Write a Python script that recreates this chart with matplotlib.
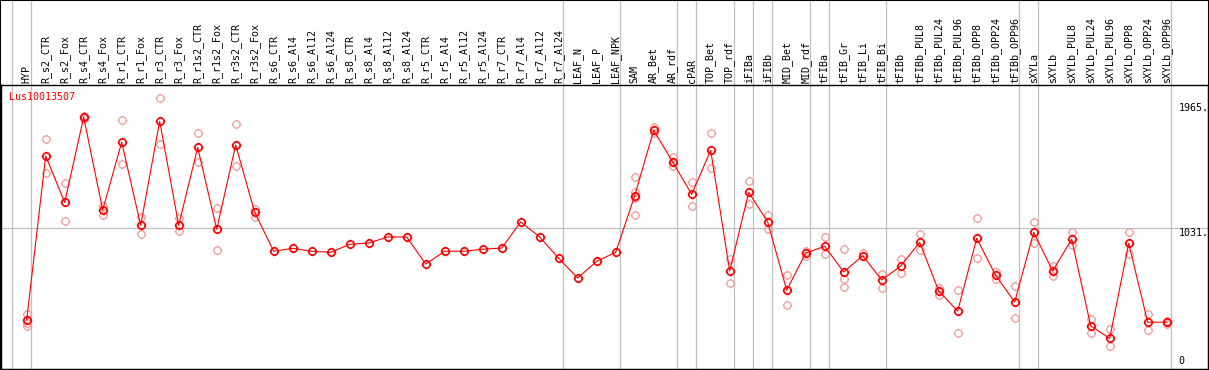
import numpy as np
import matplotlib
matplotlib.use("Agg")
import matplotlib.pyplot as plt
from matplotlib.path import Path
from matplotlib.patches import Rectangle


categories = ["HYP",
              "R_s2_CTR", "R_s2_Fox", "R_s4_CTR", "R_s4_Fox", "R_r1_CTR", "R_r1_Fox",
              "R_r3_CTR", "R_r3_Fox", "R_r1s2_CTR", "R_r1s2_Fox", "R_r3s2_CTR", "R_r3s2_Fox",
              "R_s6_CTR", "R_s6_Al4", "R_s6_Al12", "R_s6_Al24",
              "R_s8_CTR", "R_s8_Al4", "R_s8_Al12", "R_s8_Al24",
              "R_r5_CTR", "R_r5_Al4", "R_r5_Al12", "R_r5_Al24",
              "R_r7_CTR", "R_r7_Al4", "R_r7_Al12", "R_r7_Al24",
              "LEAF_N", "LEAF_P", "LEAF_NPK",
              "SAM", "AR_Bet", "AR_rdf", "cPAR", "TOP_Bet", "TOP_rdf",
              "iFIBa", "iFIBb", "MID_Bet", "MID_rdf",
              "tFIBa", "tFIB_Gr", "tFIB_Li", "tFIB_Bi", "tFIBb",
              "tFIBb_PUL8", "tFIBb_PUL24", "tFIBb_PUL96",
              "tFIBb_OPP8", "tFIBb_OPP24", "tFIBb_OPP96",
              "sXYLa", "sXYLb",
              "sXYLb_PUL8", "sXYLb_PUL24", "sXYLb_PUL96",
              "sXYLb_OPP8", "sXYLb_OPP24", "sXYLb_OPP96"]

# mean expression per sample
means = [338,
         1569, 1221, 1860, 1164, 1672, 1049,
         1830, 1049, 1634, 1019, 1652, 1146,
         854, 876, 854, 846,
         906, 916, 961, 961,
         758, 854, 854, 869,
         878, 1074, 961, 801,
         653, 779, 846,
         1271, 1762, 1524, 1281, 1612, 706,
         1296, 1074, 561, 841,
         891, 698, 821, 638, 743,
         921, 556, 405,
         951, 673, 473,
         996, 706,
         944, 293, 200,
         914, 321, 321]

# individual replicates (empty where only one sample)
replicates = [[381, 313, 293],
              [1694, 1439], [1364, 1079], [1866, 1850], [1196, 1126], [1837, 1507], [1113, 986],
              [2002, 1657], [1101, 1004], [1739, 1526], [1176, 861], [1807, 1492], [1171, 1113],
              [], [], [], [],
              [], [], [], [],
              [], [], [], [],
              [], [], [], [],
              [], [], [],
              [1409, 1301, 1251, 1124], [1789, 1739], [1559, 1492], [1372, 1191], [1739, 1481], [796, 613],
              [1381, 1206], [1124, 1023], [673, 448], [856, 821],
              [961, 836], [871, 643, 586], [839, 816], [681, 576], [794, 688],
              [981, 863], [580, 526], [561, 238],
              [1101, 801], [700, 646], [591, 351],
              [1071, 918], [743, 670],
              [996, 899], [343, 242], [270, 140],
              [996, 831], [381, 263], [330, 306]]

# last sample index of each group (separator drawn after it)
group_ends = [-1, 0, 28, 31, 34, 35, 37, 38, 39, 41, 42, 45, 52, 53, 60]

ytick_values = [1965, 1031]
gene = "Lus10013507"

RED = "#ff0000"
PINK = "#f09a9a"
GREY = "#c0c0c0"
MONO = "DejaVu Sans Mono"


def SunMarker():
    # circle with four little stubs, like the original plot symbol
    a = np.linspace(0, 2 * np.pi, 41)
    verts = list(zip(np.cos(a), np.sin(a)))
    codes = [Path.MOVETO] + [Path.LINETO] * 40
    s = 1.3
    verts += [(0, 1), (0, s), (0, -1), (0, -s), (1, 0), (s, 0), (-1, 0), (-s, 0)]
    codes += [Path.MOVETO, Path.LINETO] * 4
    return Path(verts, codes)


def main():

    W, H = 1209, 370
    fig = plt.figure(figsize=(W / 100, H / 100), dpi=100)

    # plot region in pixels
    left, right, top, bottom = 1, 1208, 85, 369
    ax = fig.add_axes([left / W, (H - bottom) / H, (right - left) / W, (bottom - top) / H])

    # x pixel = 26.7 + 19 * i ; y pixel = 365 - 0.1332 * v
    ax.set_xlim((left - 26.7) / 19, (right - 26.7) / 19)
    ax.set_ylim((365 - bottom) / 0.1332, (365 - top) / 0.1332)

    for s in ax.spines.values():
        s.set_color("black")
        s.set_linewidth(1.0)

    ax.set_yticks([])
    ax.xaxis.tick_top()
    ax.set_xticks(range(len(categories)))
    ax.set_xticklabels(categories, rotation=90, fontfamily=MONO, fontsize=7.2)
    ax.tick_params(axis="x", length=0, pad=1.5)

    # separators between sample groups, up to the top of the figure
    ymax = (bottom - 0) / (bottom - top)
    for g in group_ends:
        ax.axvline(g + 0.2, ymin=0, ymax=ymax, color=GREY, lw=0.9, clip_on=False, zorder=0)
    ax.axhline(ytick_values[1], color=GREY, lw=0.9, zorder=0)

    mk = SunMarker()
    x = np.arange(len(categories))

    rx, ry = [], []
    for i, r in enumerate(replicates):
        for v in r:
            rx.append(i)
            ry.append(v)
    ax.plot(rx, ry, linestyle="none", marker=mk, markersize=6.8, mfc="none",
            mec=PINK, mew=0.9, zorder=2)

    ax.plot(x, means, color=RED, lw=0.8, marker=mk, markersize=6.8, mfc="none",
            mec=RED, mew=1.2, zorder=3)

    # value labels on the right
    tr = ax.get_yaxis_transform()
    for v in ytick_values:
        ax.text(0.9755, v, "%d." % v, transform=tr, ha="left", va="top",
                fontfamily=MONO, fontsize=7.2, color="black")
    ax.text(0.9755, 0.01, "0", transform=ax.transAxes, ha="left", va="bottom",
            fontfamily=MONO, fontsize=7.2, color="black")

    ax.text(0.007, 0.959, gene, transform=ax.transAxes, ha="left", va="center",
            fontfamily=MONO, fontsize=7.2, color=RED)

    # outer frame
    fig.add_artist(Rectangle((0, 0), 1, 1, transform=fig.transFigure, fill=False,
                             ec="black", lw=1.5))

    fig.savefig("out.png", dpi=100)


if __name__ == '__main__':
    main()
